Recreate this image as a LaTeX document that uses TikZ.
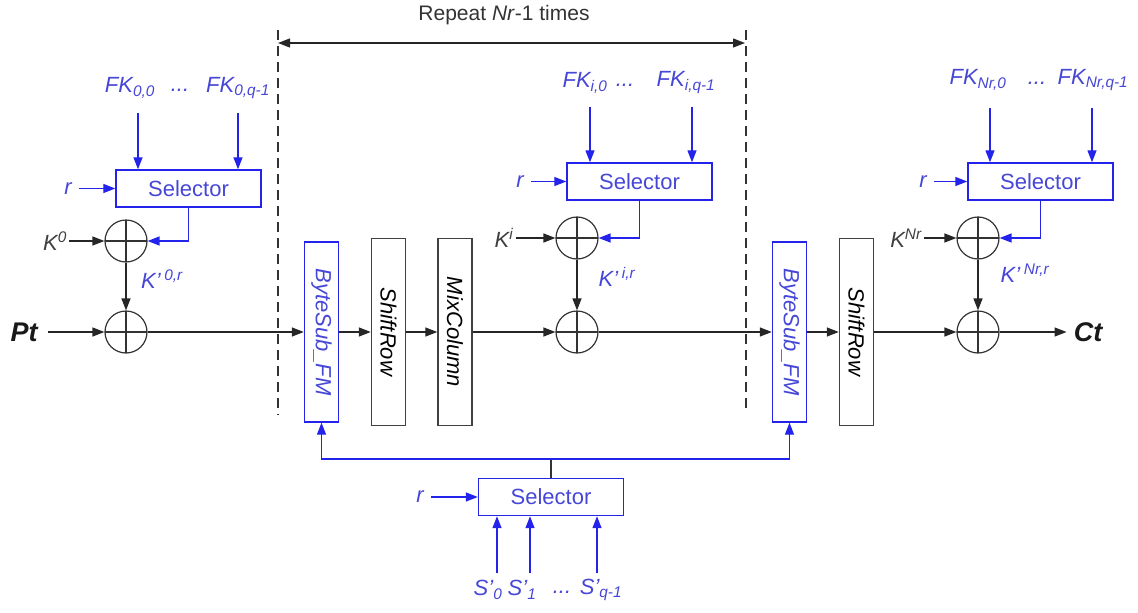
\documentclass[tikz,border=0pt]{standalone}
\usepackage{fontspec}
\setmainfont{Liberation Sans}
\usepackage{graphicx}
\usetikzlibrary{arrows.meta, positioning, calc}
\definecolor{fmblue}{RGB}{35,35,235}
\definecolor{fmtext}{RGB}{70,70,215}
\newcommand{\lblfont}{\fontsize{22}{26}\selectfont}

\begin{document}
\begin{tikzpicture}[x=1pt, y=-1pt,
  selbox/.style={rectangle, draw=fmblue, line width=1.4pt, minimum width=145pt,
    minimum height=37pt, inner sep=0pt, text=fmtext, font=\lblfont},
  stagebox/.style={rectangle, draw=black!75, line width=1.4pt, minimum width=34pt,
    minimum height=187pt, inner sep=0pt, font=\lblfont\itshape},
  fmbox/.style={stagebox, draw=fmblue, text=fmtext, minimum height=180pt},
  xorop/.style={circle, draw=black!80, line width=1.2pt, minimum size=42pt, inner sep=0pt,
    path picture={\draw[black!80, line width=1.2pt]
      (path picture bounding box.north) -- (path picture bounding box.south)
      (path picture bounding box.west) -- (path picture bounding box.east);}},
  arr/.style={-{Triangle[length=12pt,width=9pt]}, line width=1.3pt, black!85},
  barr/.style={arr, fmblue},
  darr/.style={{Triangle[length=12pt,width=9pt]}-{Triangle[length=12pt,width=9pt]}, line width=1.3pt, black!85},
  sep/.style={dashed, dash pattern=on 10pt off 6pt, line width=1.2pt, black!80},
  blbl/.style={text=fmtext, font=\lblfont\itshape, inner sep=2pt},
  klbl/.style={text=black!75, font=\lblfont\itshape, inner sep=2pt},
  iolbl/.style={text=black!90, font=\fontsize{27}{30}\selectfont\bfseries\itshape, inner sep=2pt},
]
\useasboundingbox (0,0) rectangle (1138,613);

% Repeat bracket
\node[text=black!80, font=\fontsize{21}{25}\selectfont] (rep) at (504,15) {Repeat \textit{Nr}-1 times};
\coordinate (repl) at (278,43);
\coordinate (repr) at (745,43);
\draw[darr] (repl) -- (repr);
\coordinate (d1t) at (278,30);
\coordinate (d1b) at (278,415);
\coordinate (d2t) at (746,30);
\coordinate (d2b) at (746,413);
\draw[sep] (d1t) -- (d1b);
\draw[sep] (d2t) -- (d2b);

% Main data path
\node[iolbl] (pt) at (24,332) {Pt};
\node[xorop] (x1) at (126,241) {};
\node[xorop] (x2) at (126,332) {};
\node[fmbox] (bs1) at (321.5,332) {\rotatebox{-90}{ByteSub\_FM}};
\node[stagebox] (sr1) at (388.5,332) {\rotatebox{-90}{ShiftRow}};
\node[stagebox] (mc1) at (455,332) {\rotatebox{-90}{MixColumn}};
\node[xorop] (x3) at (577,332) {};
\node[xorop] (xk) at (577,238) {};
\node[fmbox] (bs2) at (789.5,332) {\rotatebox{-90}{ByteSub\_FM}};
\node[stagebox] (sr2) at (856.5,332) {\rotatebox{-90}{ShiftRow}};
\node[xorop] (x4) at (978,332) {};
\node[xorop] (xn) at (978,238) {};
\node[iolbl] (ct) at (1088,332) {Ct};

\draw[arr, shorten <=8pt] (pt) -- (x2);
\draw[arr] (x2) -- (bs1);
\draw[arr] (bs1) -- (sr1);
\draw[arr] (sr1) -- (mc1);
\draw[arr] (mc1) -- (x3);
\draw[arr] (x3) -- (bs2);
\draw[arr] (bs2) -- (sr2);
\draw[arr] (sr2) -- (x4);
\draw[arr, shorten >=5pt] (x4) -- (ct);

% Round key 0
\node[selbox] (sel1) at (188.5,188.5) {Selector};
\node[blbl] (fk00) at (130,88) {FK\textsubscript{\textit{0,0}}};
\node[blbl] (fkd0) at (180,90) {...};
\node[blbl] (fk0q) at (238,88) {FK\textsubscript{\textit{0,q-1}}};
\coordinate (f00) at (138,113);
\coordinate (f0q) at (238,113);
\draw[barr] (f00) -- (f00 |- sel1.north);
\draw[barr] (f0q) -- (f0q |- sel1.north);
\node[blbl] (r1) at (68,188.5) {r};
\draw[barr, shorten <=5pt] (r1) -- (sel1);
\node[klbl] (k0) at (55,241) {K\textsuperscript{\textit{0}}};
\draw[arr] (k0) -- (x1);
\draw[barr] (sel1.south) |- (x1.east);
\draw[arr] (x1) -- (x2);
\node[blbl] (kp0) at (162,279) {K'\,\textsuperscript{\textit{0,r}}};

% Round key i
\node[selbox] (sel2) at (639.5,181.5) {Selector};
\node[blbl] (fki0) at (585,83) {FK\textsubscript{\textit{i,0}}};
\node[blbl] (fkdi) at (625,85) {...};
\node[blbl] (fkiq) at (686,83) {FK\textsubscript{\textit{i,q-1}}};
\coordinate (fi0) at (590,107);
\coordinate (fiq) at (692,107);
\draw[barr] (fi0) -- (fi0 |- sel2.north);
\draw[barr] (fiq) -- (fiq |- sel2.north);
\node[blbl] (r2) at (520,181.5) {r};
\draw[barr, shorten <=5pt] (r2) -- (sel2);
\node[klbl] (ki) at (504,238) {K\textsuperscript{\textit{i}}};
\draw[arr] (ki) -- (xk);
\draw[barr] (sel2.south) |- (xk.east);
\draw[arr] (xk) -- (x3);
\node[blbl] (kpi) at (617,277) {K'\,\textsuperscript{\textit{i,r}}};

% Round key Nr
\node[selbox] (sel3) at (1040.5,181.5) {Selector};
\node[blbl] (fkn0) at (978,80) {FK\textsubscript{\textit{Nr,0}}};
\node[blbl] (fkdn) at (1037,83) {...};
\node[blbl] (fknq) at (1093,80) {FK\textsubscript{\textit{Nr,q-1}}};
\coordinate (fn0) at (990,108);
\coordinate (fnq) at (1092,108);
\draw[barr] (fn0) -- (fn0 |- sel3.north);
\draw[barr] (fnq) -- (fnq |- sel3.north);
\node[blbl] (r3) at (923,181.5) {r};
\draw[barr, shorten <=5pt] (r3) -- (sel3);
\node[klbl] (kn) at (906,238) {K\textsuperscript{\textit{Nr}}};
\draw[arr] (kn) -- (xn);
\draw[barr] (sel3.south) |- (xn.east);
\draw[arr] (xn) -- (x4);
\node[blbl] (kpn) at (1025,273) {K'\,\textsuperscript{\textit{Nr,r}}};

% Sbox selector
\node[selbox] (sel4) at (551,497) {Selector};
\coordinate (bus) at (551,459);
\draw[black!80, line width=1.3pt] (sel4.north) -- (bus);
\draw[barr] (bus) -| (bs1.south);
\draw[barr] (bus) -| (bs2.south);
\node[blbl] (r4) at (420,497) {r};
\draw[barr, shorten <=5pt] (r4) -- (sel4);
\node[blbl] (s0) at (488,590) {S'\textsubscript{\textit{0}}};
\node[blbl] (s1) at (522,590) {S'\textsubscript{\textit{1}}};
\node[blbl] (sd) at (562,592) {...};
\node[blbl] (sq) at (601,590) {S'\textsubscript{\textit{q-1}}};
\coordinate (i0) at (497,573);
\coordinate (i1) at (530,573);
\coordinate (iq) at (597,573);
\draw[barr] (i0) -- (i0 |- sel4.south);
\draw[barr] (i1) -- (i1 |- sel4.south);
\draw[barr] (iq) -- (iq |- sel4.south);

\end{tikzpicture}
\end{document}
